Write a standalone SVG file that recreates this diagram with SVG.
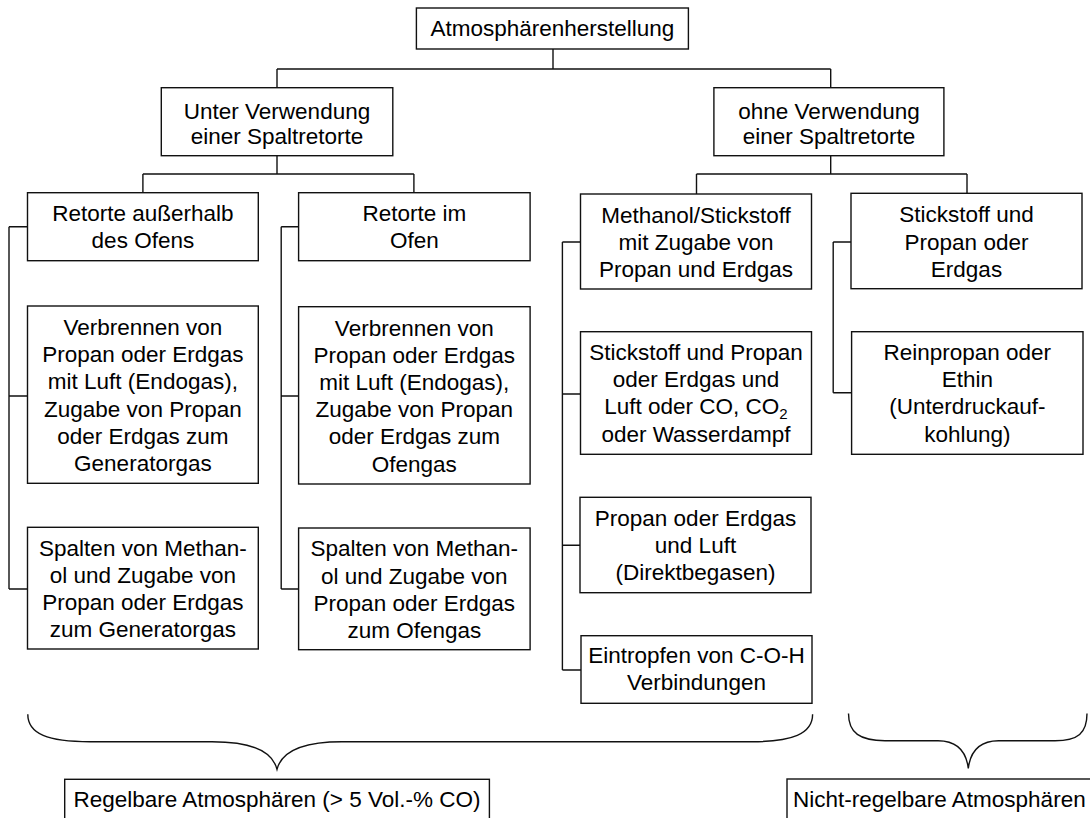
<svg xmlns="http://www.w3.org/2000/svg" width="1090" height="818" viewBox="0 0 1090 818">
<style>
.box{fill:#fff;stroke:#111;stroke-width:1.4}
.t{font-family:"Liberation Sans",Arial,sans-serif;font-size:22.5px;fill:#000;text-anchor:middle}
.ln{fill:none;stroke:#111;stroke-width:1.4}
.sub{font-size:15px}
</style>
<rect width="1090" height="818" fill="#fff"/>
<g id="connectors" class="ln">
<path d="M553 49V69M277 69H830.7M277 69V87.7M830.7 69V87.7"/>
<path d="M277 155.7V174M142.9 174H413.9M142.9 174V192.7M413.9 174V192.7"/>
<path d="M830.7 155.7V174M696.5 174H967M696.5 174V194M967 174V193.3"/>
<path d="M9 226.7V589M9 226.7H27.5M9 396H27.5M9 589H27.5"/>
<path d="M281.2 226.7V589M281.2 226.7H298.6M281.2 396H298.6M281.2 589H298.6"/>
<path d="M562.4 242V670M562.4 242H580.5M562.4 394H580.5M562.4 545.3H580M562.4 670H581"/>
<path d="M833.2 242V392.7M833.2 242H851M833.2 392.7H851.6"/>
<path d="M27.8 714.3C27.8 734 48 741.7 90 741.7L212 741.7C248 741.7 272 750 277 769.3C282 750 306 741.7 342 741.7L752 741.7C792 741.7 812.6 734 812.6 714.3"/>
<path d="M848.5 713.5C848.5 733 860 740.7 885 740.7L938 740.7C956 740.7 966 750 968.3 768.3C970.6 750 980.6 740.7 998.6 740.7L1055 740.7C1078 740.7 1087 733 1087 713.5"/>
</g>
<g id="n-root"><rect class="box" x="416.4" y="8" width="272" height="41"/><text class="t" x="552.4" y="36">Atmosphärenherstellung</text></g>
<g id="n-unter"><rect class="box" x="161.3" y="87.7" width="231.5" height="68"/><text class="t" x="277" y="118.5">Unter Verwendung</text><text class="t" x="277" y="143.5">einer Spaltretorte</text></g>
<g id="n-ohne"><rect class="box" x="713.9" y="87.7" width="230" height="68"/><text class="t" x="829" y="118.5">ohne Verwendung</text><text class="t" x="829" y="143.5">einer Spaltretorte</text></g>
<g id="n-a1"><rect class="box" x="27.5" y="192.7" width="230.8" height="68"/><text class="t" x="142.9" y="220.5">Retorte außerhalb</text><text class="t" x="142.9" y="248">des Ofens</text></g>
<g id="n-a2"><rect class="box" x="27.5" y="306" width="230.8" height="177.3"/>
<text class="t" x="142.9" y="335">Verbrennen von</text><text class="t" x="142.9" y="362.2">Propan oder Erdgas</text><text class="t" x="142.9" y="389.4">mit Luft (Endogas),</text><text class="t" x="142.9" y="416.6">Zugabe von Propan</text><text class="t" x="142.9" y="443.8">oder Erdgas zum</text><text class="t" x="142.9" y="471">Generatorgas</text></g>
<g id="n-a3"><rect class="box" x="27.5" y="527.3" width="230.8" height="121.7"/>
<text class="t" x="142.9" y="555.6">Spalten von Methan-</text><text class="t" x="142.9" y="582.8">ol und Zugabe von</text><text class="t" x="142.9" y="610">Propan oder Erdgas</text><text class="t" x="142.9" y="637.2">zum Generatorgas</text></g>
<g id="n-b1"><rect class="box" x="298.6" y="192.7" width="231.5" height="68"/><text class="t" x="414.3" y="220.5">Retorte im</text><text class="t" x="414.3" y="248">Ofen</text></g>
<g id="n-b2"><rect class="box" x="298.6" y="306.7" width="231.5" height="177.3"/>
<text class="t" x="414.3" y="335.5">Verbrennen von</text><text class="t" x="414.3" y="362.7">Propan oder Erdgas</text><text class="t" x="414.3" y="389.9">mit Luft (Endogas),</text><text class="t" x="414.3" y="417.1">Zugabe von Propan</text><text class="t" x="414.3" y="444.3">oder Erdgas zum</text><text class="t" x="414.3" y="471.5">Ofengas</text></g>
<g id="n-b3"><rect class="box" x="298.6" y="528" width="231.5" height="121.7"/>
<text class="t" x="414.3" y="556.3">Spalten von Methan-</text><text class="t" x="414.3" y="583.5">ol und Zugabe von</text><text class="t" x="414.3" y="610.7">Propan oder Erdgas</text><text class="t" x="414.3" y="637.9">zum Ofengas</text></g>
<g id="n-c1"><rect class="box" x="580.5" y="194" width="231" height="95"/>
<text class="t" x="696" y="222.5">Methanol/Stickstoff</text><text class="t" x="696" y="249.7">mit Zugabe von</text><text class="t" x="696" y="276.9">Propan und Erdgas</text></g>
<g id="n-c2"><rect class="box" x="580.5" y="331.7" width="231" height="122.6"/>
<text class="t" x="696" y="360">Stickstoff und Propan</text><text class="t" x="696" y="387.2">oder Erdgas und</text><text class="t" x="696" y="414.4">Luft oder CO, CO<tspan class="sub" dy="5">2</tspan></text><text class="t" x="696" y="441.6">oder Wasserdampf</text></g>
<g id="n-c3"><rect class="box" x="580" y="497.3" width="231" height="95.4"/>
<text class="t" x="695.5" y="525.8">Propan oder Erdgas</text><text class="t" x="695.5" y="553">und Luft</text><text class="t" x="695.5" y="580.2">(Direktbegasen)</text></g>
<g id="n-c4"><rect class="box" x="581" y="635.7" width="231" height="67.6"/>
<text class="t" x="696.5" y="663">Eintropfen von C-O-H</text><text class="t" x="696.5" y="690.2">Verbindungen</text></g>
<g id="n-d1"><rect class="box" x="851" y="193.3" width="231" height="95.4"/>
<text class="t" x="966.5" y="222.3">Stickstoff und</text><text class="t" x="966.5" y="249.5">Propan oder</text><text class="t" x="966.5" y="276.7">Erdgas</text></g>
<g id="n-d2"><rect class="box" x="851.6" y="331.7" width="231.4" height="122.6"/>
<text class="t" x="967.3" y="360">Reinpropan oder</text><text class="t" x="967.3" y="387.2">Ethin</text><text class="t" x="967.3" y="414.4">(Unterdruckauf-</text><text class="t" x="967.3" y="441.6">kohlung)</text></g>
<g id="n-regel"><rect class="box" x="64.7" y="779.3" width="424.7" height="50"/><text class="t" x="277" y="807">Regelbare Atmosphären (&gt; 5 Vol.-% CO)</text></g>
<g id="n-nicht"><rect class="box" x="787" y="779" width="315" height="50"/><text class="t" x="793" y="807" style="text-anchor:start">Nicht-regelbare Atmosphären</text></g>
</svg>
